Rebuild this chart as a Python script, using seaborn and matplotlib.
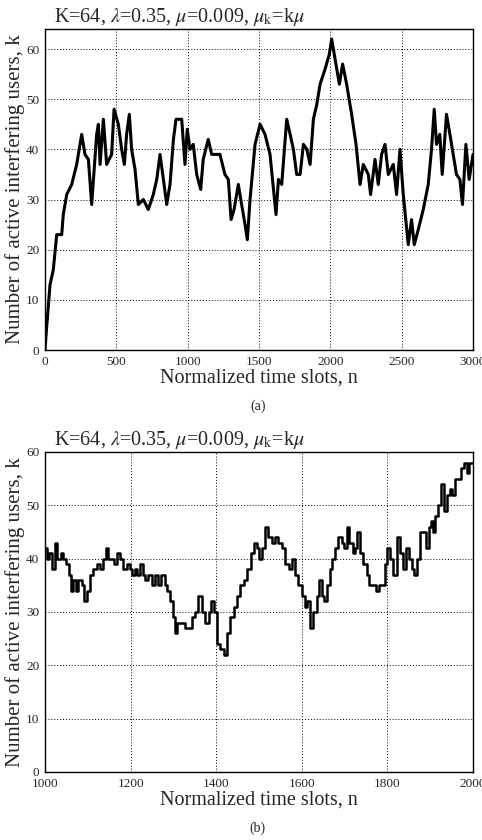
import numpy as np
import pandas as pd
import matplotlib
matplotlib.use("Agg")
import matplotlib.pyplot as plt
import seaborn as sns

# ---- data ----
n_a = [0, 10, 35, 58, 82, 117, 128, 152, 187, 222, 257, 280, 304, 327, 362, 374, 386, 409, 432, 467,
       484, 514, 537, 556, 572, 591, 607, 631, 654, 689, 724, 759, 783, 806, 825, 853, 876, 900, 918, 958,
       981, 997, 1016, 1039, 1063, 1091, 1109, 1144, 1168, 1191, 1226, 1261, 1285, 1304, 1325, 1355, 1378,
       1402, 1418, 1437, 1472, 1507, 1542, 1577, 1619, 1636, 1659, 1694, 1718, 1741, 1764, 1788, 1811,
       1835, 1858, 1881, 1905, 1928, 1963, 1993, 2009, 2033, 2063, 2086, 2114, 2149, 2180, 2208, 2231,
       2266, 2282, 2313, 2336, 2359, 2383, 2406, 2441, 2464, 2488, 2511, 2546, 2569, 2588, 2616, 2651,
       2686, 2709, 2728, 2744, 2767, 2784, 2814, 2838, 2861, 2884, 2908, 2926, 2950, 2973, 3000]
k_a = [0, 4, 13, 16, 23, 23, 27, 31, 33, 37, 43, 39, 38, 29, 43, 45, 37, 46, 37, 39,
       48, 45, 40, 37, 43, 47, 40, 36, 29, 30, 28, 31, 34, 39, 35, 29, 33, 42, 46, 46,
       37, 44, 40, 41, 35, 32, 38, 42, 39, 39, 39, 35, 34, 26, 28, 33, 29,
       25, 22, 30, 41, 45, 43, 39, 27, 34, 33, 46, 43, 40, 35, 35, 41,
       40, 37, 46, 49, 53, 56, 59, 62, 58, 53, 57, 53, 47, 41, 33, 37,
       35, 31, 38, 33, 39, 41, 35, 37, 31, 40, 31, 21, 26, 21, 24, 28,
       33, 40, 48, 41, 43, 35, 47, 43, 39, 35, 34, 29, 41, 34, 39]

n_b = [1000, 1004, 1010, 1016, 1023, 1029, 1037, 1043, 1049, 1057, 1060, 1066, 1072, 1078, 1086, 1092,
       1097, 1105, 1113, 1121, 1128, 1136, 1142, 1148, 1156, 1161, 1169, 1175, 1183, 1191, 1199, 1203,
       1210, 1216, 1222, 1230, 1234, 1241, 1249, 1257, 1265, 1272, 1280, 1284, 1292, 1298, 1304, 1308,
       1315, 1322, 1327, 1337, 1343, 1350, 1358, 1366, 1374, 1382, 1388, 1394, 1402, 1409, 1417, 1425,
       1433, 1441, 1448, 1456, 1464, 1473, 1481, 1489, 1495, 1501, 1506, 1514, 1522, 1530, 1537, 1545,
       1553, 1561, 1569, 1576, 1584, 1592, 1600, 1607, 1613, 1619, 1627, 1635, 1639, 1646, 1652, 1658,
       1666, 1670, 1678, 1685, 1693, 1699, 1705, 1711, 1719, 1724, 1730, 1736, 1744, 1752, 1758, 1766,
       1773, 1781, 1789, 1794, 1800, 1806, 1812, 1822, 1829, 1837, 1843, 1851, 1857, 1862, 1868, 1876,
       1882, 1890, 1896, 1901, 1906, 1911, 1917, 1924, 1933, 1940, 1946, 1952, 1958, 1966, 1973, 1979,
       1985, 1991, 2000]
k_b = [42, 40, 41, 38, 43, 40, 41, 40, 39, 37, 34, 36, 34, 36, 35, 32,
       34, 37, 38, 39, 38, 40, 42, 40, 40, 39, 41, 40, 38, 39, 38, 37,
       38, 37, 39, 37, 36, 37, 35, 37, 35, 37, 35, 34, 32, 29, 26, 28,
       28, 28, 27, 27, 29, 30, 33, 30, 28, 30, 32, 30, 24, 23, 22, 26,
       29, 31, 33, 35, 36, 38, 41, 43, 42, 40, 42, 46, 44, 43, 44, 43,
       42, 39, 38, 40, 37, 35, 33, 31, 32, 27, 30, 33, 36, 33, 32, 35,
       38, 40, 42, 44, 43, 42, 46, 43, 41, 42, 45, 41, 39, 37, 35, 35,
       34, 35, 35, 39, 42, 40, 37, 44, 41, 38, 42, 40, 38, 37, 40, 45,
       45, 42, 46, 47, 45, 48, 50, 54, 49, 52, 53, 52, 55, 55, 57, 58,
       56, 58, 58]

xticks_a = [0, 500, 1000, 1500, 2000, 2500, 3000]
xticks_b = [1000, 1200, 1400, 1600, 1800, 2000]
yticks = [0, 10, 20, 30, 40, 50, 60]

title = r"K=64, $\lambda$=0.35, $\mu$=0.009, $\mu_{\rm k}$=k$\mu$"
ylabel = "Number of active interfering users, k"
xlabel = "Normalized time slots, n"

sns.set_theme(style="white")
plt.rcParams['font.family'] = ['Liberation Serif', 'DejaVu Serif']
plt.rcParams['mathtext.fontset'] = 'stix'

fig = plt.figure(figsize=(4.82, 8.40), dpi=100)
ax1 = fig.add_axes([0.0934, 0.5833, 0.888, 0.3822])
ax2 = fig.add_axes([0.0934, 0.0810, 0.888, 0.3810])

df_a = pd.DataFrame({"n": n_a, "k": k_a})
df_b = pd.DataFrame({"n": n_b, "k": k_b})

sns.lineplot(data=df_a, x="n", y="k", ax=ax1, color="black", lw=2.2,
             estimator=None, sort=False)
sns.lineplot(data=df_b, x="n", y="k", ax=ax2, color="black", lw=1.8,
             drawstyle="steps-post", estimator=None, sort=False)

for ax, xt, xl, yl in [(ax1, xticks_a, (0, 3000), (0, 64)),
                       (ax2, xticks_b, (1000, 2000), (0, 60))]:
    ax.set_xlim(*xl)
    ax.set_ylim(*yl)
    ax.set_xticks(xt)
    ax.set_yticks(yticks)
    ax.set_xticklabels([str(v) for v in xt], fontsize=9.5)
    ax.set_yticklabels([str(v) for v in yticks], fontsize=9.5)
    ax.tick_params(axis="x", length=0, pad=4)
    ax.tick_params(axis="y", length=0, pad=4)
    ax.grid(True, color="black", linestyle=(0, (1, 2)), linewidth=0.7)
    for s in ax.spines.values():
        s.set_color("black")
        s.set_linewidth(1.0)
    ax.set_xlabel(xlabel, fontsize=14.5, labelpad=1)
    ax.set_ylabel(ylabel, fontsize=15, labelpad=1)
    ax.set_title(title, fontsize=14.5, loc="left", x=0.02, pad=5)

fig.text(0.535, 1 - 406 / 840, "(a)", ha="center", va="center", fontsize=10)
fig.text(0.535, 1 - 828 / 840, "(b)", ha="center", va="center", fontsize=10)

fig.savefig("out.png", dpi=100)
